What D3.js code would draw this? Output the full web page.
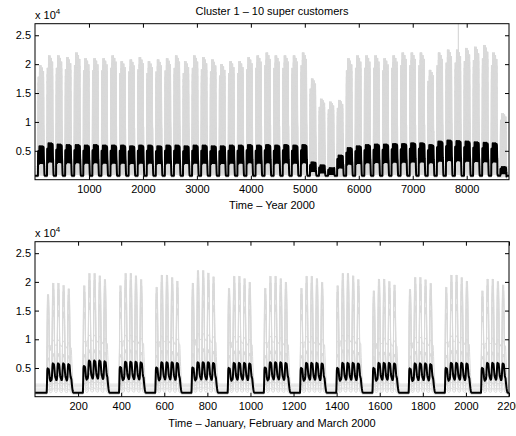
<!DOCTYPE html>
<html>
<head>
<meta charset="utf-8">
<script src="https://cdn.jsdelivr.net/npm/d3@7"></script>
<style>
  body { margin: 0; background: #fff; }
  svg { display: block; font-family: "Liberation Sans", Arial, Helvetica, sans-serif; }
  .axis text { font-size: 11px; fill: #000; }
  .axis line { stroke: #000; }
  .axis path { display: none; }
</style>
</head>
<body>
<svg width="516" height="436"></svg>
<script>
// all levels in units of 1e4
// weekly peak of the grey envelope (top customer), week 0 starts Sat 1 Jan 2000
var weekGray = [1.98, 2.15, 2.15, 2.12, 2.20, 2.10, 2.10, 2.10, 2.15, 2.05, 2.08, 2.12, 2.05, 2.08,
  2.10, 2.15, 2.05, 2.15, 2.12, 2.08, 2.00, 2.05, 2.05, 2.12, 2.15, 2.20, 2.15, 2.15, 2.15, 2.20,
  1.75, 1.40, 1.35, 1.38, 2.10, 2.15, 2.15, 2.15, 2.10, 2.15, 2.20, 2.20, 2.20, 1.90, 2.20, 2.25,
  2.25, 2.28, 2.30, 2.33, 2.20, 1.15, 0.30];
// weekly peak of the black curve
var weekBlack = [0.58, 0.63, 0.61, 0.60, 0.60, 0.59, 0.60, 0.59, 0.59, 0.59, 0.58, 0.59, 0.59, 0.58,
  0.59, 0.59, 0.58, 0.59, 0.59, 0.58, 0.58, 0.59, 0.59, 0.60, 0.59, 0.60, 0.59, 0.60, 0.59, 0.60,
  0.30, 0.25, 0.20, 0.42, 0.55, 0.58, 0.60, 0.61, 0.61, 0.62, 0.62, 0.63, 0.63, 0.60, 0.66, 0.68,
  0.67, 0.66, 0.65, 0.64, 0.63, 0.22, 0.10];

// weekday hourly profile of the black curve (for a week with peak 0.56)
var hourBlack = [0.30, 0.29, 0.28, 0.28, 0.29, 0.31, 0.36, 0.44, 0.51, 0.55, 0.56, 0.55,
  0.54, 0.55, 0.55, 0.54, 0.51, 0.47, 0.42, 0.38, 0.35, 0.33, 0.32, 0.31];
// weekday hourly shape of the grey customers (0 = night level, 1 = day level)
var hourGray = [0, 0, 0, 0, 0, 0.05, 0.2, 0.55, 0.85, 1, 1, 0.97,
  0.9, 0.95, 1, 0.95, 0.8, 0.55, 0.3, 0.15, 0.08, 0.03, 0, 0];
// saturday fall from friday night to the weekend level
var satFall = [0.85, 0.7, 0.55, 0.42, 0.3, 0.2, 0.12, 0.06, 0.02, 0, 0, 0,
  0, 0, 0, 0, 0, 0, 0, 0, 0, 0, 0, 0];
// monday start-up from the weekend level
var monRise = [0, 0, 0, 0, 0, 0, 0.3, 0.7, 1, 1, 1, 1, 1, 1, 1, 1, 1, 1, 1, 1, 1, 1, 1, 1];
// Mon..Fri factors
var dayBlack = [0.85, 1.0, 1.0, 1.0, 0.98];
var dayGray = [0.9, 1.0, 1.0, 0.98, 0.95];
var blackWeekend = 0.07;

// the ten customers: day peak, night level, weekend level
var custPeak = [2.10, 1.98, 1.85, 1.60, 1.05, 0.80, 0.55, 0.40, 0.25, 0.15];
var custNight = [0.35, 0.30, 0.25, 0.40, 0.95, 0.25, 0.20, 0.15, 0.12, 0.08];
var custWeekend = [0.20, 0.15, 0.12, 0.18, 0.22, 0.10, 0.08, 0.06, 0.05, 0.04];
var spikeHour = [7845];
var spikeValue = [2.72];

var nHours = 8784;

// hourly value from a weekday profile (already scaled), weekend level and day factors
function hourValue(t, weekday, weekendW, dayF) {
  var k = Math.floor(t / 168), d = Math.floor((t % 168) / 24), h = t % 24;
  if (d === 0) {
    if (k === 0) return weekendW;
    return weekendW + (weekday[23] * dayF[4] - weekendW) * satFall[h];
  }
  if (d === 1) return weekendW;
  var v = weekday[h] * dayF[d - 2];
  if (d === 2) v = weekendW + (v - weekendW) * monRise[h];
  return v;
}

var grayData = custPeak.map(function(p, c) {
  var arr = [];
  for (var t = 0; t < nHours; t++) {
    var g = weekGray[Math.floor(t / 168)] / 2.10;
    var profile = hourGray.map(function(s) {
      return (custNight[c] + (p - custNight[c]) * s) * g;
    });
    arr.push(hourValue(t, profile, custWeekend[c], dayGray));
  }
  return arr;
});
spikeHour.forEach(function(hh, i) { grayData[0][hh] = spikeValue[i]; });

var blackData = [];
for (var t = 0; t < nHours; t++) {
  var s = weekBlack[Math.floor(t / 168)] / 0.56;
  blackData.push(hourValue(t, hourBlack.map(function(v) { return v * s; }), blackWeekend, dayBlack));
}

var svg = d3.select('svg');
var left = 35, right = 509;

var panels = [
  { top: 23.7, bottom: 179.7, xMax: 8784, n: 8784, xTicks: [1000, 2000, 3000, 4000, 5000, 6000, 7000, 8000],
    label: 'Time \u2013 Year 2000', labelY: 209, expY: 19, title: 'Cluster 1 \u2013 10 super customers' },
  { top: 241.7, bottom: 396.7, xMax: 2200, n: 2200, xTicks: [200, 400, 600, 800, 1000, 1200, 1400, 1600, 1800, 2000, 2200],
    label: 'Time \u2013 January, February and March 2000', labelY: 427, expY: 237 }
];

panels.forEach(function(p, pi) {
  var x = d3.scaleLinear().domain([0, p.xMax]).range([left, right]);
  var y = d3.scaleLinear().domain([0, 27000]).range([p.bottom, p.top]);
  var g = svg.append('g');

  g.append('clipPath').attr('id', 'clip' + pi)
    .append('rect').attr('x', left).attr('y', p.top)
    .attr('width', right - left).attr('height', p.bottom - p.top);

  var line = d3.line()
    .x(function(d, i) { return x(i + 1); })
    .y(function(d) { return y(d * 1e4); });

  var plot = g.append('g').attr('clip-path', 'url(#clip' + pi + ')');
  plot.selectAll('path.gray')
    .data(grayData)
    .enter()
    .append('path')
      .attr('class', 'gray')
      .attr('d', function(d) { return line(d.slice(0, p.n)); })
      .attr('fill', 'none')
      .attr('stroke', '#d9d9d9')
      .attr('stroke-width', 1);
  plot.append('path')
    .attr('d', line(blackData.slice(0, p.n)))
    .attr('fill', 'none')
    .attr('stroke', '#000')
    .attr('stroke-width', 2)
    .attr('stroke-linejoin', 'round');

  g.append('g').attr('class', 'axis')
    .attr('transform', 'translate(0,' + p.bottom + ')')
    .call(d3.axisBottom(x).tickValues(p.xTicks).tickSize(-4).tickPadding(6).tickFormat(d3.format('d')));
  g.append('g').attr('class', 'axis')
    .attr('transform', 'translate(0,' + p.top + ')')
    .call(d3.axisTop(x).tickValues(p.xTicks).tickSize(-4).tickFormat(''));
  g.append('g').attr('class', 'axis')
    .attr('transform', 'translate(' + left + ',0)')
    .call(d3.axisLeft(y).tickValues([5000, 10000, 15000, 20000, 25000]).tickSize(-4).tickPadding(4)
      .tickFormat(function(d) { return d / 1e4; }));
  g.append('g').attr('class', 'axis')
    .attr('transform', 'translate(' + right + ',0)')
    .call(d3.axisRight(y).tickValues([5000, 10000, 15000, 20000, 25000]).tickSize(-4).tickFormat(''));

  g.append('rect')
    .attr('x', left).attr('y', p.top)
    .attr('width', right - left).attr('height', p.bottom - p.top)
    .attr('fill', 'none').attr('stroke', '#000').attr('stroke-width', 1);

  var exp = g.append('text')
    .attr('x', left).attr('y', p.expY)
    .style('font-size', '11px');
  exp.append('tspan').text('x 10');
  exp.append('tspan').attr('dy', -5).style('font-size', '8px').text('4');

  g.append('text')
    .attr('x', (left + right) / 2).attr('y', p.labelY)
    .style('text-anchor', 'middle').style('font-size', '11px')
    .text(p.label);

  if (p.title) {
    g.append('text')
      .attr('x', (left + right) / 2).attr('y', 15)
      .style('text-anchor', 'middle').style('font-size', '11px')
      .text(p.title);
  }
});
</script>
</body>
</html>
